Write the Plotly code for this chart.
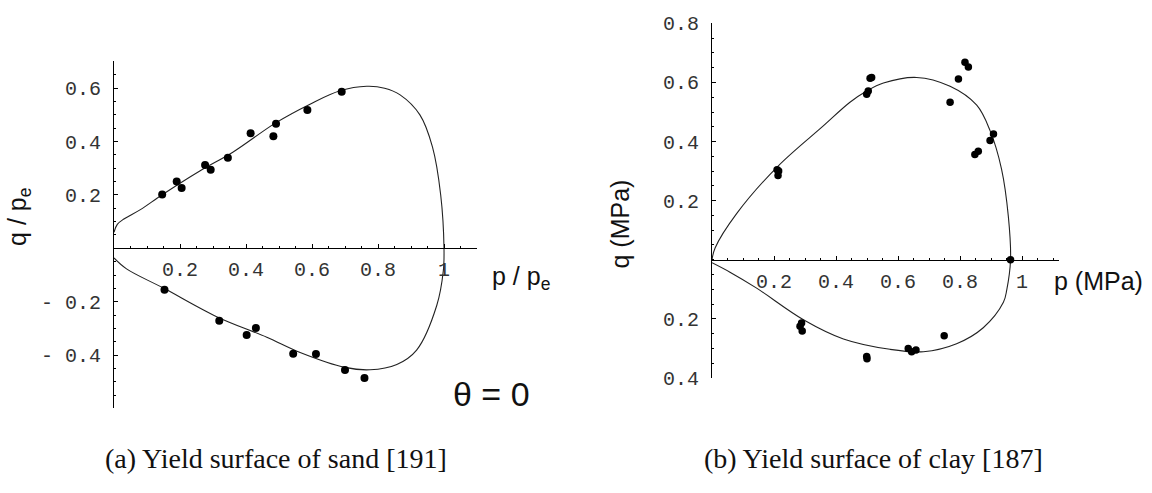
import plotly.graph_objects as go

W, H = 1152, 493

# ---- (a) sand: normalised yield surface, theta = 0 ----
sand_curve_p = [0.0, 0.01, 0.03, 0.08, 0.145, 0.26, 0.36, 0.49, 0.594, 0.685, 0.766, 0.82,
                0.867, 0.927, 0.965, 0.99, 1.0,
                0.998, 0.978, 0.917, 0.857, 0.776, 0.7, 0.564, 0.463, 0.311, 0.15, 0.038, 0.0]
sand_curve_q = [0.06, 0.09, 0.11, 0.145, 0.2, 0.29, 0.36, 0.47, 0.54, 0.59, 0.607, 0.6,
                0.575, 0.5, 0.38, 0.2, 0.0,
                -0.083, -0.214, -0.381, -0.435, -0.455, -0.446, -0.39, -0.333, -0.256, -0.149, -0.077, -0.036]
sand_pts_p = [0.146, 0.19, 0.205, 0.276, 0.293, 0.345, 0.414, 0.483, 0.491, 0.586, 0.69,
              0.153, 0.319, 0.402, 0.43, 0.543, 0.612, 0.7, 0.759]
sand_pts_q = [0.202, 0.25, 0.226, 0.312, 0.294, 0.339, 0.431, 0.42, 0.467, 0.518, 0.587,
              -0.155, -0.271, -0.325, -0.298, -0.395, -0.396, -0.456, -0.486]
sand_xticks = [0.2, 0.4, 0.6, 0.8, 1.0]
sand_xlabels = ["0.2", "0.4", "0.6", "0.8", "1"]
sand_yticks = [0.6, 0.4, 0.2, -0.2, -0.4]
sand_ylabels = ["0.6", "0.4", "0.2", "- 0.2", "- 0.4"]

# ---- (b) clay: yield surface in MPa ----
clay_curve_p = [0.0, 0.01, 0.08, 0.214, 0.359, 0.445, 0.499, 0.553, 0.66, 0.768, 0.854, 0.897,
                0.934, 0.956, 0.963,
                0.951, 0.94, 0.875, 0.789, 0.682, 0.574, 0.424, 0.295, 0.144, 0.058, 0.0]
clay_curve_q = [0.0, 0.04, 0.157, 0.318, 0.453, 0.533, 0.571, 0.598, 0.617, 0.587, 0.523, 0.437,
                0.307, 0.146, 0.0,
                -0.101, -0.144, -0.23, -0.284, -0.311, -0.303, -0.268, -0.203, -0.096, -0.042, -0.01]
clay_pts_p = [0.21, 0.215, 0.213, 0.499, 0.504, 0.51, 0.515, 0.768, 0.795, 0.816, 0.827,
              0.848, 0.859, 0.897, 0.908, 0.963,
              0.284, 0.289, 0.291, 0.499, 0.5, 0.633, 0.644, 0.658, 0.749]
clay_pts_q = [0.305, 0.3, 0.285, 0.56, 0.571, 0.614, 0.617, 0.533, 0.612, 0.668, 0.652,
              0.356, 0.367, 0.404, 0.426, 0.0,
              -0.225, -0.214, -0.241, -0.327, -0.335, -0.3, -0.311, -0.305, -0.257]
clay_xticks = [0.2, 0.4, 0.6, 0.8, 1.0]
clay_xlabels = ["0.2", "0.4", "0.6", "0.8", "1"]
clay_yticks = [0.8, 0.6, 0.4, 0.2, -0.2, -0.4]
clay_ylabels = ["0.8", "0.6", "0.4", "0.2", "0.2", "0.4"]


def px(x):
    return x / W


def py(y):
    return 1 - y / H


TICK_FONT = dict(family="Liberation Mono, Courier New, monospace", size=20, color="#333")
LABEL_FONT = dict(family="Liberation Sans, Arial, sans-serif", size=25, color="#111")
CAPTION_FONT = dict(family="Liberation Serif, Times New Roman, serif", size=28, color="#111")

fig = go.Figure()

fig.add_trace(go.Scatter(x=sand_curve_p, y=sand_curve_q, mode="lines",
                         line=dict(color="#222", width=1.1, shape="spline"),
                         xaxis="x", yaxis="y", hoverinfo="skip"))
fig.add_trace(go.Scatter(x=sand_pts_p, y=sand_pts_q, mode="markers",
                         marker=dict(color="black", size=8),
                         xaxis="x", yaxis="y"))
fig.add_trace(go.Scatter(x=clay_curve_p, y=clay_curve_q, mode="lines",
                         line=dict(color="#222", width=1.1, shape="spline"),
                         xaxis="x2", yaxis="y2", hoverinfo="skip"))
fig.add_trace(go.Scatter(x=clay_pts_p, y=clay_pts_q, mode="markers",
                         marker=dict(color="black", size=7.5),
                         xaxis="x2", yaxis="y2"))

axis_common = dict(showgrid=False, zeroline=False, showline=True, linecolor="black",
                   linewidth=1.2, ticks="inside", ticklen=4, tickcolor="black",
                   tickfont=TICK_FONT, fixedrange=True)
minor = dict(dtick=0.05, ticks="inside", ticklen=2, tickcolor="black", showgrid=False)

fig.update_layout(
    width=W, height=H,
    margin=dict(l=0, r=0, t=0, b=0),
    paper_bgcolor="white", plot_bgcolor="white",
    showlegend=False,
    xaxis=dict(domain=[px(114), px(477)], range=[0, 1.1], anchor="free", position=py(250),
               tickmode="array", tickvals=sand_xticks, ticktext=sand_xlabels,
               ticklabelstandoff=3, minor=dict(minor, tick0=0), **axis_common),
    yaxis=dict(domain=[py(418), py(54)], range=[-0.6, 0.7], anchor="x",
               tickmode="array", tickvals=sand_yticks, ticktext=sand_ylabels,
               ticklabelstandoff=8, minor=dict(minor, tick0=0), **axis_common),
    xaxis2=dict(domain=[px(712), px(1059.2)], range=[0, 1.12], anchor="free", position=py(262),
                tickmode="array", tickvals=clay_xticks, ticktext=clay_xlabels,
                ticklabelstandoff=3, minor=dict(minor, tick0=0), **axis_common),
    yaxis2=dict(domain=[py(386), py(14)], range=[-0.4, 0.8], anchor="x2",
                tickmode="array", tickvals=clay_yticks, ticktext=clay_ylabels,
                ticklabelstandoff=8, minor=dict(minor, tick0=0), **axis_common),
)

annotations = [
    dict(text="q / p<sub>e</sub>", x=px(19), y=py(217), textangle=-90, font=LABEL_FONT),
    dict(text="p / p<sub>e</sub>", x=px(521), y=py(281), font=LABEL_FONT),
    dict(text="θ = 0", x=px(491), y=py(403),
         font=dict(family="Liberation Sans, Arial, sans-serif", size=34, color="#111")),
    dict(text="q (MPa)", x=px(620), y=py(225), textangle=-90, font=LABEL_FONT),
    dict(text="p (MPa)", x=px(1098), y=py(284), font=LABEL_FONT),
    dict(text="(a) Yield surface of sand [191]", x=px(103), y=py(470), xanchor="left",
         font=CAPTION_FONT),
    dict(text="(b) Yield surface of clay [187]", x=px(702), y=py(470), xanchor="left",
         font=CAPTION_FONT),
]
for a in annotations:
    a.setdefault("xanchor", "center")
    fig.add_annotation(xref="paper", yref="paper", showarrow=False, yanchor="middle", **a)

fig.write_html("out.html")
